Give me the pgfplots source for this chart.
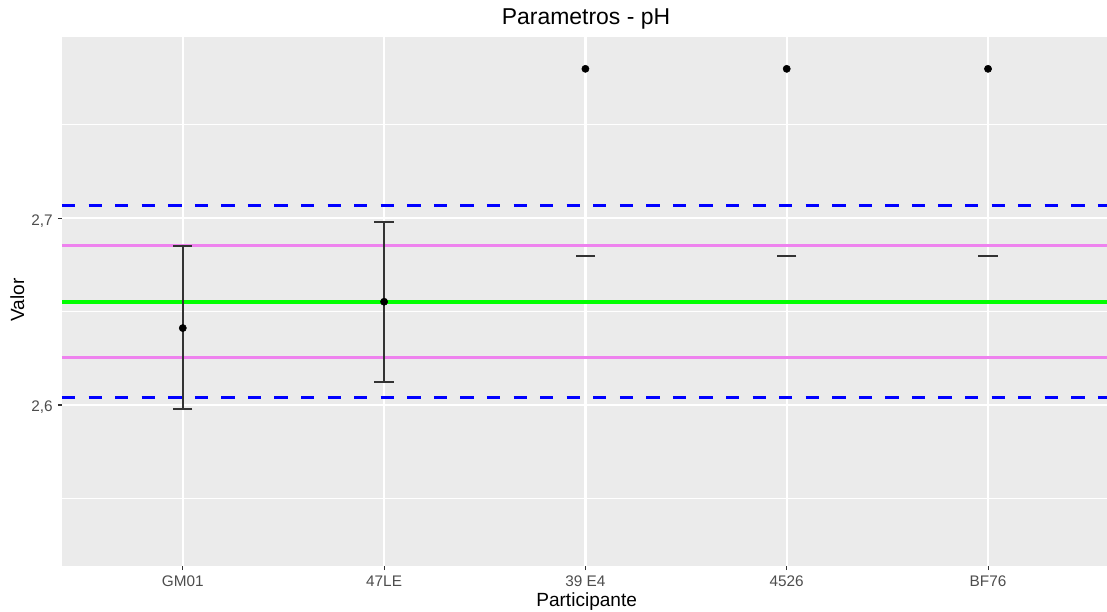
\documentclass[border=0pt]{standalone}
\usepackage{pgfplots}
\pgfplotsset{compat=1.18}
\usepackage{fontspec}
\setmainfont{Liberation Sans}
\definecolor{panel}{HTML}{EBEBEB}
\definecolor{tickc}{HTML}{333333}
\definecolor{labc}{HTML}{4D4D4D}
\definecolor{vio}{HTML}{EE82EE}
\definecolor{grn}{HTML}{00FF00}
\definecolor{blu}{HTML}{0000FF}
\begin{document}
\begin{tikzpicture}[x=1pt,y=1pt]
\path[use as bounding box] (0,0) rectangle (830.25,458.25);
\begin{axis}[
 at={(46.5pt,33.75pt)}, anchor=south west,
 scale only axis, width=783.75pt, height=396.4pt,
 xmin=-0.6, xmax=4.591, ymin=2.5138, ymax=2.7968,
 axis background/.style={fill=panel},
 axis line style={draw=none},
 xtick={0,1,2,3,4}, xticklabels={GM01,47LE,39 E4,4526,BF76},
 ytick={2.6,2.7}, minor ytick={2.55,2.65,2.75},
 /pgf/number format/fixed,
 /pgf/number format/fixed zerofill,
 /pgf/number format/precision=1,
 /pgf/number format/use comma,
 /pgf/number format/assume math mode=true,
 tick align=outside, major tick length=3pt, minor tick length=0pt,
 tick style={color=tickc, line width=0.8pt},
 xtick pos=bottom, ytick pos=left,
 grid=both,
 major grid style={white, line width=1.8pt},
 minor grid style={white, line width=0.9pt},
 ticklabel style={font=\fontsize{11.5}{13}\selectfont, text=labc},
 xticklabel style={anchor=base, yshift=-12.3pt, inner sep=0pt},
 yticklabel style={anchor=base east, yshift=-5.2pt, xshift=-3.8pt, inner sep=0pt},
 clip=true,
]
\addplot[blu, line width=2.6pt, dash pattern=on 9.96pt off 9.96pt] coordinates {(-0.6,2.7067) (4.7,2.7067)};
\addplot[blu, line width=2.6pt, dash pattern=on 9.96pt off 9.96pt] coordinates {(-0.6,2.6039) (4.7,2.6039)};
\addplot[vio, line width=2.2pt] coordinates {(-0.6,2.6853) (4.7,2.6853)};
\addplot[vio, line width=2.2pt] coordinates {(-0.6,2.6252) (4.7,2.6252)};
\addplot[grn, line width=3.2pt] coordinates {(-0.6,2.6553) (4.7,2.6553)};
\addplot[only marks, mark=*, mark size=2.7pt, black,
  error bars/.cd, y dir=both, y explicit,
  error bar style={line width=1.6pt, color=black!80},
  error mark options={rotate=90, mark size=7.25pt, line width=1.5pt, color=black!80}]
  coordinates {(0,2.6412) += (0,0.0438) -= (0,0.0435)
               (1,2.6553) += (0,0.0427) -= (0,0.0430)};
\addplot[only marks, mark=-, mark size=7.25pt, mark options={line width=1.5pt, color=black!80}]
  coordinates {(2,2.68) (3,2.68) (4,2.68)};
\addplot[only marks, mark=*, mark size=2.7pt, black]
  coordinates {(2,2.78) (3,2.78) (4,2.78)};
\end{axis}
\node[anchor=base, font=\fontsize{17.2}{20}\selectfont] at (439.5,439.5) {Parametros - pH};
\node[anchor=base, font=\fontsize{14.3}{17}\selectfont] at (440,3.75) {Participante};
\node[anchor=base, rotate=90, font=\fontsize{14.3}{17}\selectfont] at (18,233.25) {Valor};
\end{tikzpicture}
\end{document}
